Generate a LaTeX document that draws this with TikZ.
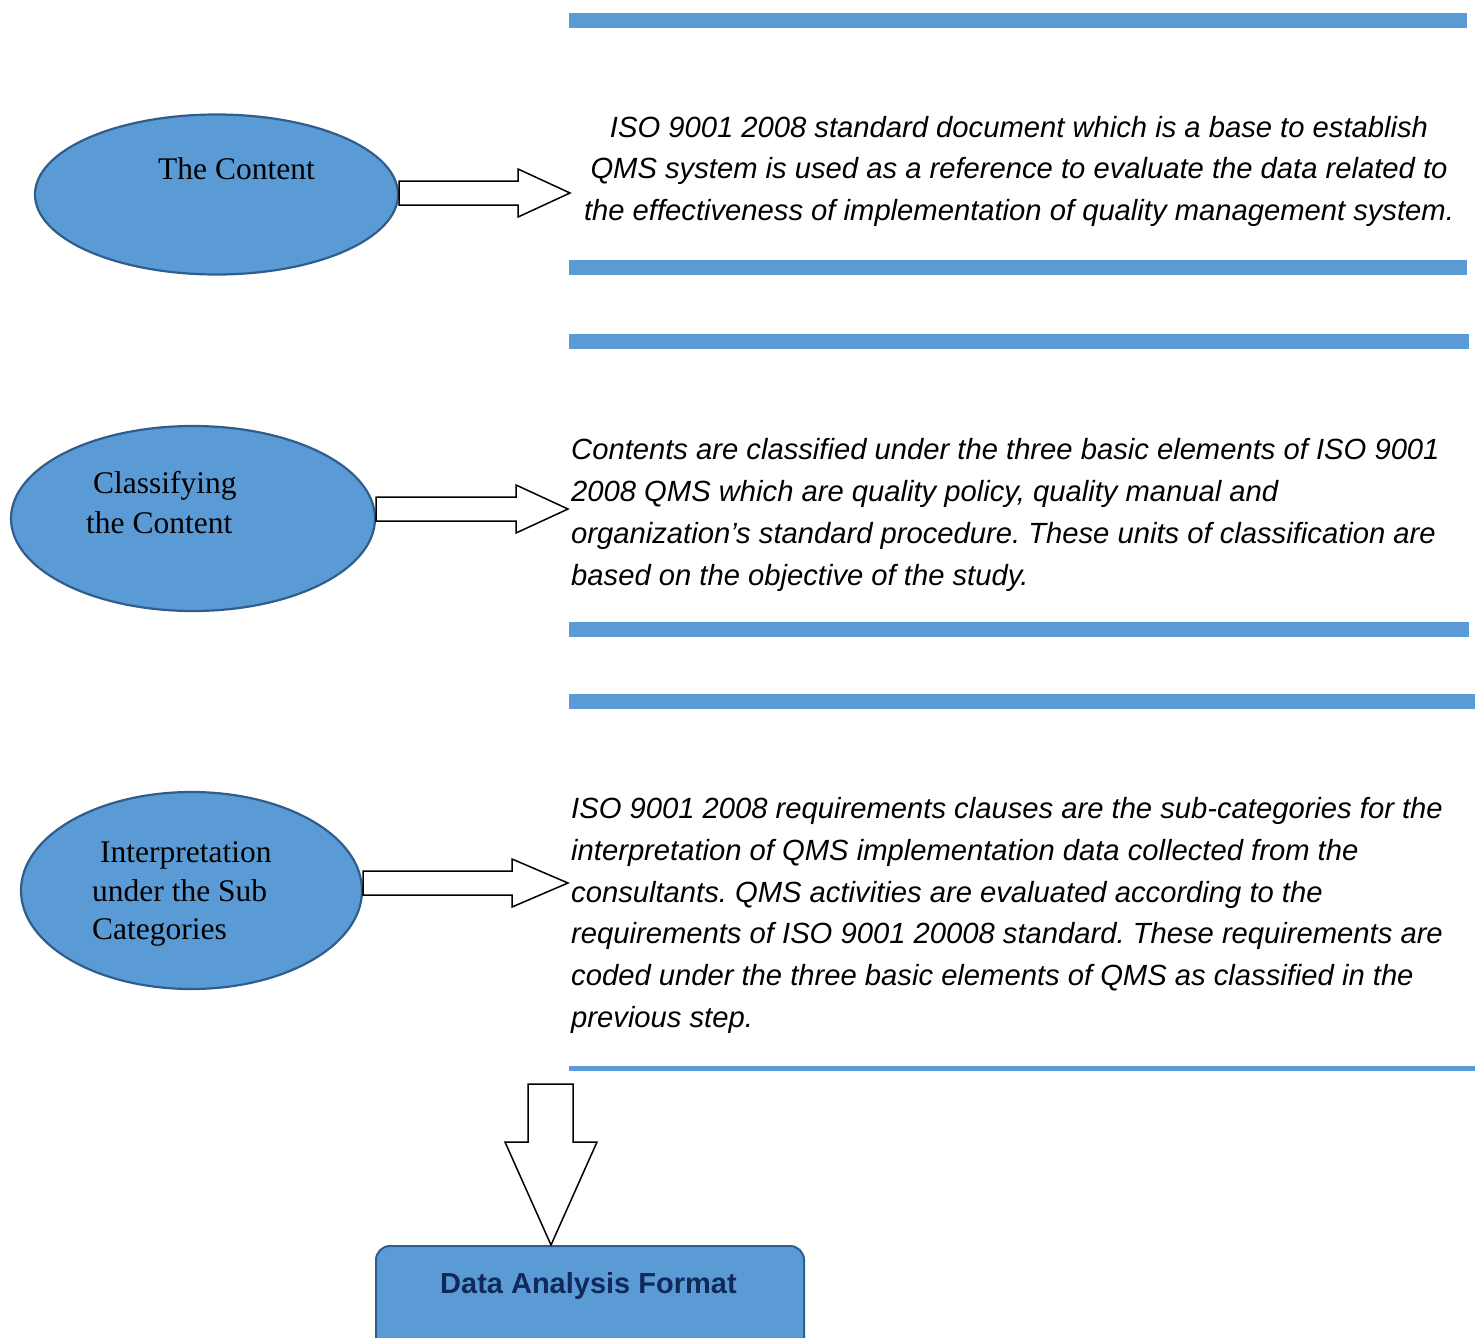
\documentclass[tikz,border=0pt]{standalone}
\usepackage{fontspec}
\setmainfont{Liberation Serif}
\newfontfamily\arial{Liberation Sans}
\usetikzlibrary{shapes.geometric,calc}
\definecolor{barblue}{HTML}{5B9BD5}
\definecolor{edgeblue}{HTML}{2F5D8C}
\definecolor{navy}{HTML}{10295A}
\frenchspacing

\begin{document}
\begin{tikzpicture}[x=1pt,y=-1pt,
  bar/.style={fill=barblue,draw=none},
  oval/.style={ellipse,draw=edgeblue,line width=2.2pt,fill=barblue,inner sep=0pt},
  ovaltext/.style={anchor=base west,inner sep=0pt,font=\fontsize{31.5}{38}\selectfont},
  desc/.style={anchor=base west,inner sep=0pt,font=\arial\itshape\fontsize{29.2}{42}\selectfont},
  descc/.style={desc,anchor=base},
  blockarrow/.style={draw=black,line width=1.5pt,fill=white,line join=miter}]
\useasboundingbox (0,0) rectangle (1475,1338);
\fill[white] (0,0) rectangle (1475,1338);

% horizontal rules framing each description
\fill[bar] (569,13) rectangle (1467,28);
\fill[bar] (569,260) rectangle (1467,275);
\fill[bar] (569,334) rectangle (1469,349);
\fill[bar] (569,622) rectangle (1469,637);
\fill[bar] (569,694) rectangle (1475,709);
\fill[bar] (569,1066) rectangle (1475,1071);

% the three steps
\node[oval,minimum width=363,minimum height=160] (e1) at (216.5,194.5) {};
\node[oval,minimum width=364,minimum height=185] (e2) at (193,518.5) {};
\node[oval,minimum width=341,minimum height=197] (e3) at (191.5,890.5) {};

\node[ovaltext] (e1a) at (158,179) {The Content};
\node[ovaltext] (e2a) at (93,493) {Classifying};
\node[ovaltext] (e2b) at (86,533) {the Content};
\node[ovaltext] (e3a) at (100,862) {Interpretation};
\node[ovaltext] (e3b) at (92,901) {under the Sub};
\node[ovaltext] (e3c) at (92,939) {Categories};

% block arrows from each step to its description
\coordinate (t1) at (570,193);
\path ($(t1)+(-52,-12)$) coordinate (h1a) ($(t1)+(-52,12)$) coordinate (h1b);
\draw[blockarrow] (e1.east |- h1a) -- (h1a) -- ++(0,-12) -- (t1) -- ($(h1b)+(0,12)$) -- (h1b) -- (e1.east |- h1b) -- cycle;

\coordinate (t2) at (568,509);
\path ($(t2)+(-52,-12)$) coordinate (h2a) ($(t2)+(-52,12)$) coordinate (h2b);
\draw[blockarrow] (e2.east |- h2a) -- (h2a) -- ++(0,-12) -- (t2) -- ($(h2b)+(0,12)$) -- (h2b) -- (e2.east |- h2b) -- cycle;

\coordinate (t3) at (568,883);
\path ($(t3)+(-56,-12)$) coordinate (h3a) ($(t3)+(-56,12)$) coordinate (h3b);
\draw[blockarrow] (e3.east |- h3a) -- (h3a) -- ++(0,-12) -- (t3) -- ($(h3b)+(0,12)$) -- (h3b) -- (e3.east |- h3b) -- cycle;

% descriptions
\node[descc] (d1a) at (1019,137) {ISO 9001 2008 standard document which is a base to establish};
\node[descc] (d1b) at (1019,178.5) {QMS system is used as a reference to evaluate the data related to};
\node[descc] (d1c) at (1019,220) {the effectiveness of implementation of quality management system.};

\node[desc] (d2a) at (571,459) {Contents are classified under the three basic elements of ISO 9001};
\node[desc] (d2b) at (571,501) {2008 QMS which are quality policy, quality manual and};
\node[desc] (d2c) at (571,543) {organization’s standard procedure. These units of classification are};
\node[desc] (d2d) at (571,585) {based on the objective of the study.};

\node[desc] (d3a) at (571,818) {ISO 9001 2008 requirements clauses are the sub-categories for the};
\node[desc] (d3b) at (571,860) {interpretation of QMS implementation data collected from the};
\node[desc] (d3c) at (571,902) {consultants. QMS activities are evaluated according to the};
\node[desc] (d3d) at (571,943.5) {requirements of ISO 9001 20008 standard. These requirements are};
\node[desc] (d3e) at (571,985.5) {coded under the three basic elements of QMS as classified in the};
\node[desc] (d3f) at (571,1027) {previous step.};

% result
\node[draw=edgeblue,line width=2pt,fill=barblue,rounded corners=14pt,
      minimum width=428,minimum height=130,anchor=north west,inner sep=0pt] (fmt) at (375,1245) {};
\node[anchor=base west,inner sep=0pt,text=navy,font=\arial\bfseries\fontsize{29}{34}\selectfont]
  (fmtlbl) at (440,1293) {Data Analysis Format};

% downward block arrow into the result
\coordinate (t4) at ($(fmt.north west)+(176,0)$);
\draw[blockarrow] ($(t4)+(-23,-161)$) -- ($(t4)+(22,-161)$) -- ($(t4)+(22,-103)$) -- ($(t4)+(46,-103)$)
  -- (t4) -- ($(t4)+(-46,-103)$) -- ($(t4)+(-23,-103)$) -- cycle;
\end{tikzpicture}
\end{document}
